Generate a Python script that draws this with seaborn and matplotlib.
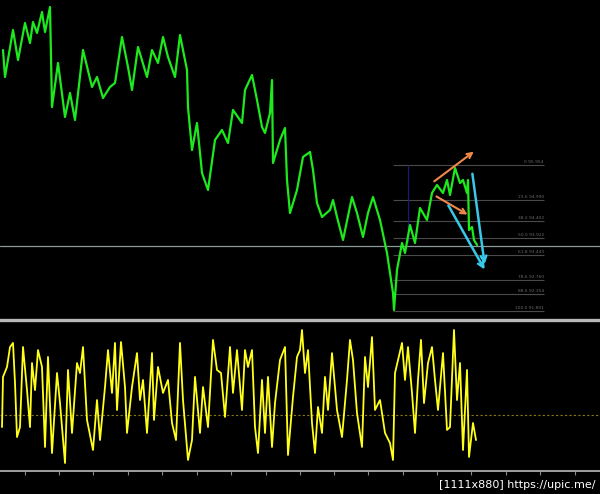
import matplotlib
matplotlib.use('Agg')
import matplotlib.pyplot as plt
import seaborn as sns

# price (bar index, close)
bars = [3, 5, 13, 18, 25, 30, 33, 37, 42, 45, 50, 52, 58, 65, 70, 75, 83, 92, 97, 103,
        110, 115, 122, 128, 132, 138, 147, 152, 158, 163, 168, 175, 180, 185, 187, 188,
        192, 197, 202, 208, 215, 222, 228, 233, 242, 245, 252, 257, 262, 265, 270, 272,
        273, 280, 285, 287, 290, 297, 303, 310, 313, 317, 322, 330, 333, 337, 343, 352,
        357, 363, 368, 373, 380, 387, 393, 394, 397, 402, 405, 410, 415, 420, 427, 432,
        437, 443, 447, 450, 455, 460, 463, 467, 468, 469, 472, 474, 477]
price = [99.154, 98.403, 99.711, 98.876, 99.906, 99.349, 99.934, 99.628, 100.212, 99.655,
         100.351, 97.568, 98.793, 97.290, 97.958, 97.206, 99.154, 98.125, 98.403, 97.819,
         98.125, 98.236, 99.516, 98.681, 98.041, 99.238, 98.403, 99.154, 98.793, 99.516,
         98.960, 98.403, 99.572, 98.876, 98.598, 97.568, 96.371, 97.123, 95.731, 95.258,
         96.650, 96.928, 96.566, 97.485, 97.123, 98.041, 98.459, 97.763, 97.012, 96.845,
         97.401, 98.320, 96.010, 96.650, 96.984, 95.537, 94.618, 95.258, 96.177, 96.316,
         95.815, 94.896, 94.507, 94.702, 94.980, 94.507, 93.867, 95.063, 94.618, 93.950,
         94.618, 95.063, 94.423, 93.505, 92.392, 91.919, 93.032, 93.783, 93.505, 94.284,
         93.783, 94.757, 94.423, 95.175, 95.398, 95.175, 95.537, 95.119, 95.871, 95.453,
         95.537, 95.175, 95.537, 94.145, 94.228, 93.867, 93.728]

# oscillator (bar index, value)
osc_bars = [2, 3, 7, 10, 13, 15, 17, 20, 23, 27, 30, 32, 35, 38, 42, 45, 48, 52, 57, 60,
            65, 68, 72, 77, 80, 83, 87, 93, 97, 100, 105, 108, 112, 115, 117, 121, 125, 127,
            132, 137, 140, 143, 147, 152, 154, 158, 163, 168, 172, 176, 180, 183, 188, 192,
            195, 200, 203, 208, 213, 217, 221, 225, 230, 233, 237, 242, 245, 248, 252, 255,
            258, 262, 265, 268, 272, 275, 280, 285, 288, 293, 297, 300, 302, 305, 308, 312,
            315, 318, 322, 325, 328, 332, 337, 342, 347, 350, 353, 357, 362, 365, 368, 372,
            375, 380, 385, 390, 393, 395, 398, 402, 405, 408, 412, 415, 418, 421, 424, 428,
            432, 435, 438, 443, 447, 450, 454, 457, 460, 463, 467, 469, 473, 476]
osc = [29.1, 62.3, 68.9, 82.1, 84.8, 58.3, 22.5, 29.1, 82.1, 53.6, 29.1, 71.5, 53.6, 80.1,
       68.9, 15.9, 75.5, 11.9, 64.9, 45.0, 5.3, 66.9, 25.2, 71.5, 64.9, 82.1, 33.8, 13.9,
       47.0, 20.5, 55.6, 80.1, 51.7, 84.8, 40.4, 85.4, 55.6, 25.2, 55.6, 78.1, 47.0, 60.3,
       25.2, 78.1, 33.8, 68.9, 51.7, 60.3, 31.8, 20.5, 84.8, 47.0, 7.3, 20.5, 62.3, 25.2,
       55.6, 29.1, 86.8, 66.9, 64.9, 35.8, 82.1, 51.7, 80.1, 40.4, 80.1, 68.9, 80.1, 29.1,
       11.9, 60.3, 25.2, 62.3, 15.9, 45.0, 73.5, 82.1, 10.6, 49.0, 75.5, 80.1, 93.4, 64.9,
       80.1, 31.8, 11.9, 42.4, 25.2, 62.3, 40.4, 78.1, 40.4, 22.5, 60.3, 86.8, 73.5, 38.4,
       15.9, 75.5, 55.6, 88.7, 40.4, 47.0, 25.2, 18.5, 7.3, 64.9, 73.5, 84.8, 60.3, 82.1,
       51.7, 25.2, 60.3, 86.8, 45.0, 71.5, 82.1, 60.3, 40.4, 78.1, 27.2, 29.1, 93.4, 47.0,
       71.5, 13.9, 66.9, 9.3, 31.8, 20.5]
osc_level = 37.1

# fibonacci retracement
fib_labels = ['0 95.954', '23.6 94.990', '38.2 94.402', '50.0 93.922',
              '61.8 93.443', '78.6 92.760', '88.6 92.354', '100.0 91.891']
fib_prices = [95.954, 94.990, 94.402, 93.922, 93.443, 92.760, 92.354, 91.891]
fib_start, fib_end = 393, 544
hline_price = 93.70
vline_bar, vline_top, vline_bottom = 408, 95.954, 93.80

# hand-drawn arrows: (x0, y0, x1, y1)
orange_arrows = [(432, 95.453, 476, 96.371), (434, 95.119, 470, 94.535)]
cyan_arrows = [(447, 94.896, 486, 92.976), (472, 95.787, 485, 93.116)]

time_ticks = [25, 59, 93, 128, 162, 197, 231, 266, 300, 334, 368, 403, 437, 471, 506, 540, 575]

sns.set_theme(style='dark', rc={'axes.facecolor': 'black', 'figure.facecolor': 'black'})

fig = plt.figure(figsize=(6, 4.94), dpi=100)
ax = fig.add_axes([0, 176 / 494, 1, 318 / 494])
ax2 = fig.add_axes([0, 23 / 494, 1, 151 / 494])

# price panel
ax.axhline(hline_price, color='#8a9a9a', lw=0.9, zorder=1)
for lab, p in zip(fib_labels, fib_prices):
    ax.hlines(p, fib_start, fib_end, color='#4a4a4a', lw=0.8, zorder=1)
    ax.text(fib_end, p + 0.03, lab, ha='right', va='bottom', fontsize=3.2, color='#6a6a6a')
ax.vlines(vline_bar, vline_bottom, vline_top, color='#1a1a70', lw=0.9, zorder=1)

sns.lineplot(x=bars, y=price, ax=ax, color='#1ee81e', lw=1.6, sort=False,
             estimator=None, zorder=3)

for x0, y0, x1, y1 in orange_arrows:
    ax.annotate('', xy=(x1, y1), xytext=(x0, y0),
                arrowprops=dict(arrowstyle='->', color='#f0884a', lw=1.5, mutation_scale=9))
for x0, y0, x1, y1 in cyan_arrows:
    ax.annotate('', xy=(x1, y1), xytext=(x0, y0),
                arrowprops=dict(arrowstyle='->', color='#38c8e8', lw=1.8, mutation_scale=10))

ax.set_xlim(0, 600)
ax.set_ylim(91.696, 100.546)
ax.set_xticks([])
ax.set_yticks([])
ax.set_xlabel('')
ax.set_ylabel('')
for s in ax.spines.values():
    s.set_visible(False)

# oscillator panel
ax2.axhline(osc_level, color='#8a7a10', lw=0.8, ls=(0, (2, 2)))
sns.lineplot(x=osc_bars, y=osc, ax=ax2, color='#ffff1a', lw=1.3, sort=False,
             estimator=None)
ax2.set_xlim(0, 600)
ax2.set_ylim(0, 100)
ax2.set_xticks(time_ticks)
ax2.set_yticks([])
ax2.tick_params(axis='x', direction='out', length=3, width=0.8, color='#8a8a8a',
                labelbottom=False, bottom=True)
ax2.set_xlabel('')
ax2.set_ylabel('')
for side in ['left', 'right']:
    ax2.spines[side].set_visible(False)
ax2.spines['top'].set_visible(True)
ax2.spines['top'].set_color('#b8b8b8')
ax2.spines['top'].set_linewidth(2.4)
ax2.spines['bottom'].set_visible(True)
ax2.spines['bottom'].set_color('#a0a0a0')
ax2.spines['bottom'].set_linewidth(1.4)

fig.text(0.992, 0.008, '[1111x880] https://upic.me/', ha='right', va='bottom',
         fontsize=8, color='white')

fig.savefig('out.png', dpi=100, facecolor='black')
